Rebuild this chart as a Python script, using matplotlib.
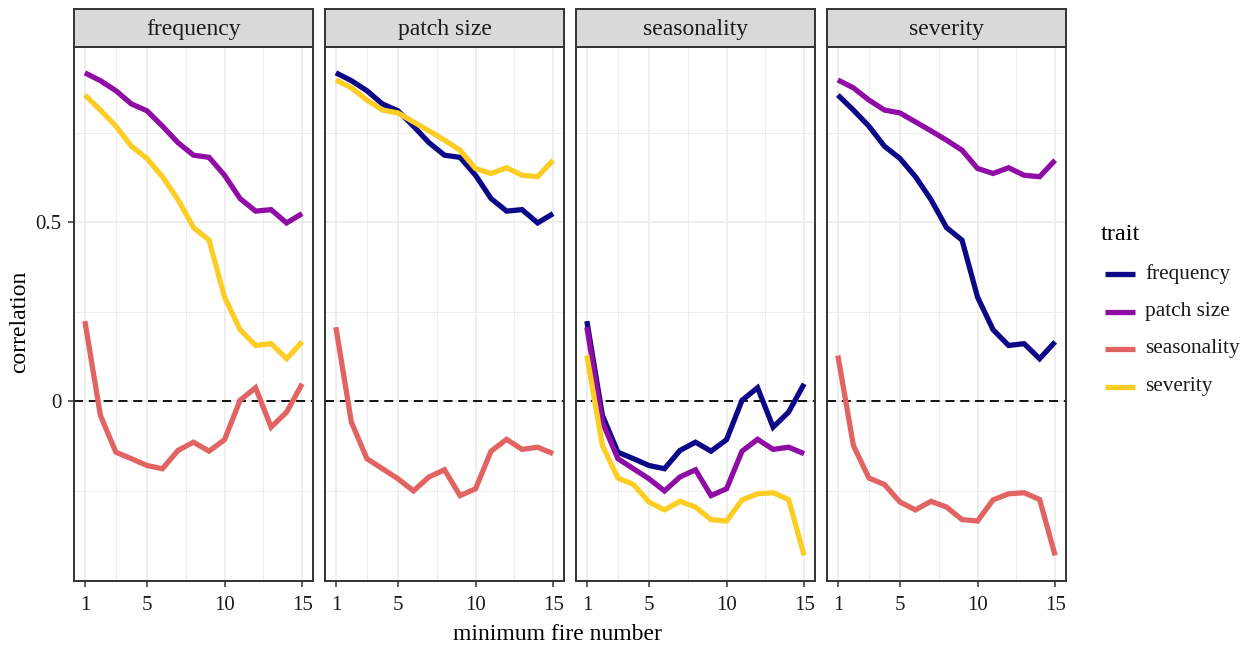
import matplotlib
matplotlib.use("Agg")
import matplotlib.pyplot as plt
from matplotlib.lines import Line2D
import numpy as np

plt.rcParams['font.family'] = ['Liberation Serif', 'DejaVu Serif']

# ---------------- data ----------------
min_fire = list(range(1, 16))
traits = ["frequency", "patch size", "seasonality", "severity"]
trait_colors = ["#0D0887", "#8F0DA4", "#E16462", "#FCCE25"]

freq_patch = [0.917, 0.895, 0.867, 0.830, 0.811, 0.768, 0.722, 0.687, 0.681, 0.631, 0.566, 0.531, 0.535, 0.498, 0.524]
freq_sev = [0.855, 0.813, 0.768, 0.712, 0.678, 0.627, 0.563, 0.485, 0.450, 0.291, 0.200, 0.156, 0.161, 0.119, 0.166]
freq_season = [0.224, -0.039, -0.142, -0.160, -0.179, -0.188, -0.137, -0.114, -0.139, -0.107, 0.003, 0.038, -0.072, -0.030, 0.049]
patch_sev = [0.897, 0.875, 0.841, 0.813, 0.805, 0.780, 0.755, 0.729, 0.701, 0.650, 0.636, 0.652, 0.631, 0.627, 0.673]
patch_season = [0.207, -0.058, -0.160, -0.188, -0.216, -0.250, -0.211, -0.191, -0.263, -0.244, -0.139, -0.106, -0.134, -0.128, -0.146]
season_sev = [0.128, -0.123, -0.214, -0.232, -0.281, -0.303, -0.279, -0.295, -0.330, -0.334, -0.275, -0.258, -0.255, -0.274, -0.430]

y_ticks = [0, 0.5]
y_tick_labels = ["0", "0.5"]
y_minor = [-0.25, 0.25, 0.75]
x_ticks = [1, 5, 10, 15]
x_minor = [3, 7.5, 12.5]

pairs = {
    ("frequency", "patch size"): freq_patch,
    ("frequency", "severity"): freq_sev,
    ("frequency", "seasonality"): freq_season,
    ("patch size", "severity"): patch_sev,
    ("patch size", "seasonality"): patch_season,
    ("seasonality", "severity"): season_sev,
}

def corr(a, b):
    return pairs.get((a, b), pairs.get((b, a)))

# ---------------- layout ----------------
W, H = 1247, 648
fig = plt.figure(figsize=(W / 100, H / 100), dpi=100)

panel_lefts = [74, 325, 576, 827]
panel_w = 239
panel_top = 47
panel_bot = 580.5
strip_top = 9

dark = "#333333"
grid_col = "#EBEBEB"
LW = 3.8

for i, facet in enumerate(traits):
    l = panel_lefts[i]
    ax = fig.add_axes([l / W, 1 - panel_bot / H, panel_w / W, (panel_bot - panel_top) / H])
    ax.set_xlim(0.3, 15.7)
    ax.set_ylim(-0.50, 0.989)
    ax.set_xticks(x_ticks)
    ax.set_xticks(x_minor, minor=True)
    ax.set_yticks(y_ticks)
    ax.set_yticks(y_minor, minor=True)
    ax.grid(which="major", color=grid_col, lw=1.2, zorder=0)
    ax.grid(which="minor", color=grid_col, lw=0.6, zorder=0)
    ax.set_axisbelow(True)
    ax.tick_params(axis="both", which="minor", length=0)
    ax.tick_params(axis="x", which="major", length=4, width=1.1, color=dark,
                   labelsize=15, labelcolor="#1A1A1A", pad=7.5)
    ax.tick_params(axis="y", which="major", length=4, width=1.1, color=dark,
                   labelsize=15, labelcolor="#1A1A1A", pad=5)
    if i == 0:
        ax.set_yticklabels(y_tick_labels)
    else:
        ax.tick_params(axis="y", which="major", labelleft=False, length=0)
    for s in ax.spines.values():
        s.set_color(dark)
        s.set_linewidth(1.4)

    ax.axhline(0, color="black", lw=1.3, ls=(0, (5, 3.2)), zorder=2)
    for t, c in zip(traits, trait_colors):
        if t == facet:
            continue
        ax.plot(min_fire, corr(facet, t), color=c, lw=LW, solid_capstyle="butt",
                solid_joinstyle="miter", zorder=3)

    # strip
    sax = fig.add_axes([l / W, 1 - panel_top / H, panel_w / W, (panel_top - strip_top) / H])
    sax.set_facecolor("#D9D9D9")
    sax.set_xticks([])
    sax.set_yticks([])
    for s in sax.spines.values():
        s.set_color(dark)
        s.set_linewidth(1.4)
    sax.text(0.5, 0.45, facet, ha="center", va="center", fontsize=17,
             color="#1A1A1A", transform=sax.transAxes)

# axis titles
fig.text(557 / W, 1 - 634 / H, "minimum fire number", ha="center", va="center",
         fontsize=17, color="black")
fig.text(20 / W, 1 - 322 / H, "correlation", ha="center", va="center", rotation=90,
         fontsize=17, color="black")

# legend (drawn manually to match ggplot guide placement)
fig.text(1101 / W, 1 - 235 / H, "trait", ha="left", va="center", fontsize=17.5, color="black")
for k, (t, c) in enumerate(zip(traits, trait_colors)):
    yy = 1 - (274 + 37.5 * k) / H
    fig.add_artist(Line2D([1105 / W, 1135 / W], [yy, yy], color=c, lw=LW,
                          solid_capstyle="butt", transform=fig.transFigure))
    fig.text(1145 / W, yy, t, ha="left", va="center", fontsize=15.3, color="#1A1A1A")

fig.savefig("out.png", dpi=100)
